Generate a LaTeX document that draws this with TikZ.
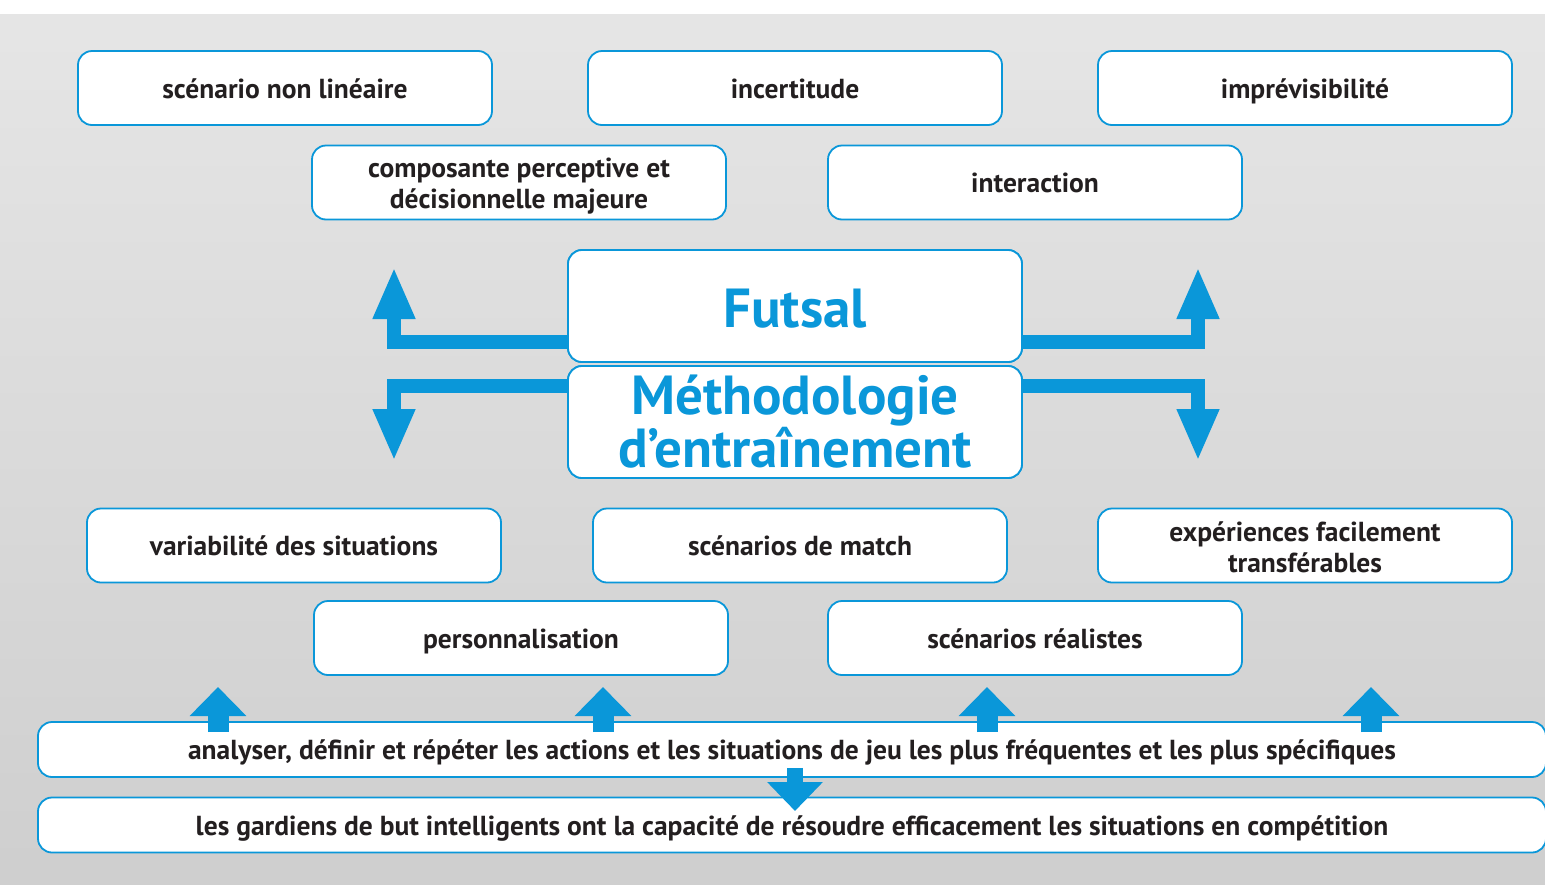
\documentclass[tikz,border=0pt]{standalone}
\usepackage{fontspec}
\setmainfont{PT Sans}
\usetikzlibrary{arrows.meta}
\definecolor{fsblue}{HTML}{0A97D9}
\definecolor{fstext}{HTML}{231F20}
\tikzset{
  card/.style={draw=fsblue, line width=1.8pt, fill=white, rounded corners=14pt,
    minimum width=414pt, minimum height=74pt, align=center, inner sep=0pt,
    text=fstext, font=\fontsize{27.5}{31}\selectfont\bfseries},
  word/.style={card, text height=26pt, text depth=6pt},
  twoline/.style={align=center, text=fstext, font=\fontsize{27.5}{31}\selectfont\bfseries},
  title/.style={card, minimum width=454pt, minimum height=112pt, text=fsblue,
    font=\fontsize{55}{50}\selectfont\bfseries},
  bar/.style={word, minimum width=1508pt, minimum height=55pt},
  branch/.style={draw=fsblue, line width=14pt, line join=miter,
    -{Triangle[length=52pt,width=39pt]}},
  lift/.style={draw=fsblue, line width=21pt, -{Triangle[length=29pt,width=55pt]}},
  drop/.style={draw=fsblue, line width=16pt, -{Triangle[length=29pt,width=54pt]}},
}
\begin{document}
\begin{tikzpicture}[x=1pt,y=-1pt]
  \clip (0,0) rectangle (1545,884);
  \fill[white] (0,0) rectangle (1545,14);
  \shade[top color=black!10, bottom color=black!19] (0,14) rectangle (1545,884);
  % centre
  \node[title, text height=52pt, text depth=10pt] (futsal) at (795,306) {Futsal};
  \node[title] (meth) at (795,422) {Méthodologie\\d’entraînement};
  \coordinate (lt) at (394,267);
  \coordinate (lb) at (394,461);
  \coordinate (rt) at (1198,267);
  \coordinate (rb) at (1198,461);
  \draw[branch] (futsal.west |- 0,342) -| (lt);
  \draw[branch] (meth.west |- 0,386) -| (lb);
  \draw[branch] (futsal.east |- 0,342) -| (rt);
  \draw[branch] (meth.east |- 0,386) -| (rb);
  \node[title, text height=52pt, text depth=10pt] (futsaltop) at (futsal) {Futsal};
  \node[title] (methtop) at (meth) {Méthodologie\\d’entraînement};
  % top
  \node[word] (nonlin) at (285,88) {scénario non linéaire};
  \node[word] (incert) at (795,88) {incertitude};
  \node[word] (imprev) at (1305,88) {imprévisibilité};
  \node[card] (percep) at (519,182.5) {};
  \node[twoline] (perceptext) at ([yshift=-4pt]percep.center) {composante perceptive et\\décisionnelle majeure};
  \node[word] (inter) at (1035,182.5) {interaction};
  % bottom
  \node[word] (variab) at (294,545.5) {variabilité des situations};
  \node[word] (match) at (800,545.5) {scénarios de match};
  \node[card] (transf) at (1305,545.5) {};
  \node[twoline] (transftext) at ([yshift=-2pt]transf.center) {expériences facilement\\transférables};
  \node[word] (perso) at (521,638) {personnalisation};
  \node[word] (realis) at (1035,638) {scénarios réalistes};
  \node[bar] (analyse) at (792,749.5) {analyser, définir et répéter les actions et les situations de jeu les plus fréquentes et les plus spécifiques};
  \node[bar] (gardien) at (792,825) {les gardiens de but intelligents ont la capacité de résoudre efficacement les situations en compétition};
  \foreach \x in {218,603,987,1371}
    \draw[lift] (\x,732) -- (\x,687);
  \draw[drop] (analyse.south -| 795,0) ++(0,-10) -- (795,811);
\end{tikzpicture}
\end{document}
